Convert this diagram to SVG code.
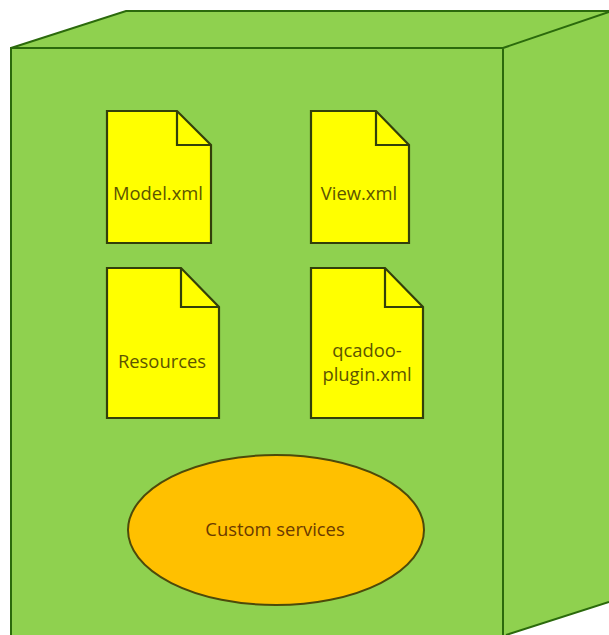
<svg xmlns="http://www.w3.org/2000/svg" width="609" height="635" viewBox="0 0 609 635">
<style>
.face{fill:#8fd14f;stroke:none}
.edge{fill:none;stroke:#2b6a0c;stroke-width:2}
.doc{fill:#ffff00;stroke:#33400a;stroke-width:2.2;stroke-linejoin:miter}
.fold{fill:none;stroke:#33400a;stroke-width:2.2}
text{font-family:"Open Sans","Noto Sans","Liberation Sans",sans-serif;font-size:18.4px;text-anchor:middle;fill:#5c5400}
</style>
<rect width="609" height="635" fill="#ffffff"/>
<g id="cube">
<polygon class="face" points="11,48 126,11 609,11 609,602 506,635 11,635"/>
<path class="edge" d="M11,635V48H503V635M11,48L126,11H609M503,48L609,12M609,602L506,635"/>
</g>
<g id="model-xml">
<path class="doc" d="M107,111H177L211,145V243H107Z"/>
<path class="fold" d="M177,111V145H211"/>
<text x="158" y="200">Model.xml</text>
</g>
<g id="view-xml">
<path class="doc" d="M311,111H376L409,145V243H311Z"/>
<path class="fold" d="M376,111V145H409"/>
<text x="359" y="200">View.xml</text>
</g>
<g id="resources">
<path class="doc" d="M107,268H181L219,307V418H107Z"/>
<path class="fold" d="M181,268V307H219"/>
<text x="162" y="368">Resources</text>
</g>
<g id="qcadoo-plugin-xml">
<path class="doc" d="M311,268H385L423,307V418H311Z"/>
<path class="fold" d="M385,268V307H423"/>
<text x="367" y="357">qcadoo-</text>
<text x="367" y="381">plugin.xml</text>
</g>
<g id="custom-services">
<ellipse cx="276" cy="530" rx="148" ry="75" fill="#ffc000" stroke="#4d4a0a" stroke-width="2"/>
<text x="275" y="536" style="fill:#6b3a00">Custom services</text>
</g>
<g id="connectors"/>
</svg>
